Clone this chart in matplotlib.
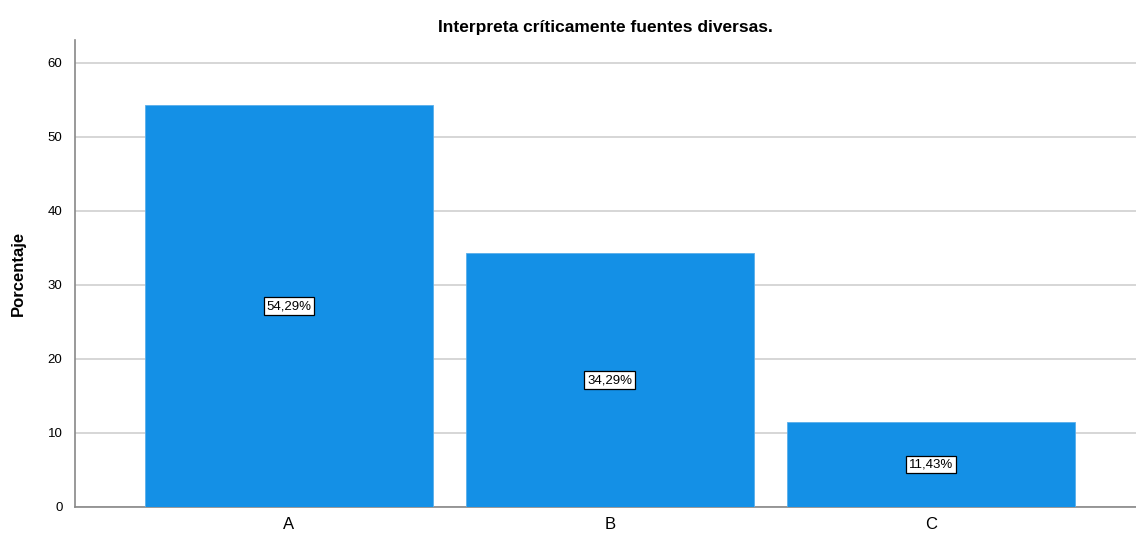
import matplotlib
matplotlib.use("Agg")
import matplotlib.pyplot as plt
import numpy as np

categories = ["A", "B", "C"]
percent = [54.29, 34.29, 11.43]
yticks = [0, 10, 20, 30, 40, 50, 60]

plt.rcParams["font.family"] = ["Liberation Sans", "DejaVu Sans"]

fig = plt.figure(figsize=(11.36, 5.33), dpi=100)
ax = fig.add_axes([0.066, 0.049, 0.934, 0.876])

x = np.arange(len(categories))
ax.bar(x, percent, width=0.897, color="#1490e6", edgecolor="#5aaeea", linewidth=0.6, zorder=3)

for xi, v in zip(x, percent):
    ax.text(xi, v / 2, f"{v:.2f}%".replace(".", ","), ha="center", va="center", fontsize=9.5,
            zorder=4, bbox=dict(boxstyle="square,pad=0.22", fc="white", ec="black", lw=0.9))

ax.set_xlim(-0.667, 2.64)
ax.set_ylim(0, 63.1)
ax.set_yticks(yticks)
ax.set_xticks(x)
ax.set_xticklabels(categories, fontsize=12)
ax.tick_params(axis="y", labelsize=9.5, length=0, pad=9)
ax.tick_params(axis="x", length=0, pad=7)
ax.yaxis.grid(True, color="#cfcfcf", linewidth=1.2, zorder=0)
ax.set_axisbelow(True)

for s in ["top", "right"]:
    ax.spines[s].set_visible(False)
ax.spines["left"].set_color("#888888")
ax.spines["bottom"].set_color("#888888")
ax.spines["left"].set_linewidth(1.2)
ax.spines["bottom"].set_linewidth(1.2)

ax.set_ylabel("Porcentaje", fontsize=12, fontweight="bold", labelpad=16)
ax.set_title("Interpreta críticamente fuentes diversas.", fontsize=12.5, fontweight="bold", pad=6)

fig.savefig("out.png", dpi=100)
